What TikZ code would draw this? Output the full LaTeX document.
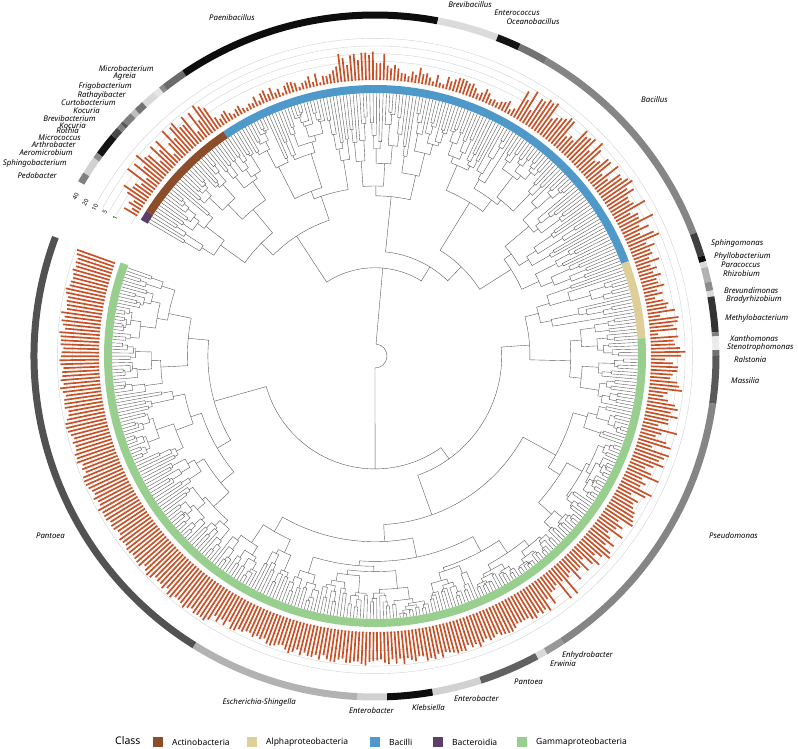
\documentclass[tikz,border=0pt]{standalone}
\usepackage{fontspec}
\setmainfont{Noto Sans}
\usepackage{tikz}
\usetikzlibrary{positioning}
\definecolor{barorange}{RGB}{200, 82, 40}
\definecolor{actino}{RGB}{140, 78, 42}
\definecolor{alpha}{RGB}{222, 207, 152}
\definecolor{bacilli}{RGB}{78, 152, 202}
\definecolor{bactero}{RGB}{92, 62, 102}
\definecolor{gamma}{RGB}{152, 206, 142}
\tikzset{
  branch/.style={draw=black!65, line width=0.4pt},
  bar/.style={draw=barorange, line width=1.7pt},
  scalering/.style={draw=black!18, line width=0.4pt},
  genus/.style={font=\fontsize{7.8}{8}\selectfont\itshape, inner sep=1pt},
  legendbox/.style={minimum size=9.5pt, inner sep=0pt},
  legendtext/.style={font=\fontsize{8.5}{9}\selectfont, anchor=west, inner sep=0pt}
}
\def\astart{149.8}
\def\aw{0.72875}
\def\rleaf{263}
% one clade: first leaf, number of leaves, radius, fixed split (0 = random)
\newcommand\clade[4]{%
  \begingroup
  \ifnum#2=1
    \pgfmathsetmacro\aa{\astart-(#1+0.5)*\aw}
    \draw[branch] (\aa:#3pt) -- (\aa:\rleaf pt);
  \else
    \ifnum#4=0
      \pgfmathtruncatemacro\kk{max(1,min(#2-1,round(#2*(0.2+0.6*rnd))))}
    \else
      \def\kk{#4}
    \fi
    \pgfmathtruncatemacro\nb{#2-\kk}
    \pgfmathtruncatemacro\ib{#1+\kk}
    \pgfmathsetmacro\ca{\astart-(#1+\kk/2)*\aw}
    \pgfmathsetmacro\cb{\astart-(\ib+\nb/2)*\aw}
    \pgfmathsetmacro\ra{#3+(\rleaf-#3)*(0.08+0.34*rnd)}
    \pgfmathsetmacro\rb{#3+(\rleaf-#3)*(0.08+0.34*rnd)}
    \draw[branch] (\ca:\ra pt) -- (\ca:#3pt) arc[start angle=\ca, end angle=\cb, radius=#3pt] -- (\cb:\rb pt);
    \edef\next{\noexpand\clade{#1}{\kk}{\ra}{0}\noexpand\clade{\ib}{\nb}{\rb}{0}}\next
  \fi
  \endgroup}

\begin{document}
\begin{tikzpicture}
\useasboundingbox (-375pt,-393pt) rectangle (423pt,356pt);
\pgfmathsetseed{11}

% scale rings
\foreach \v/\r/\rl in {1/277/294, 5/294.7/306, 10/302.3/317, 20/310/328, 40/317.6/339} {
  \draw[scalering] (-200:\r pt) arc[start angle=-200, end angle=151.5, radius=\r pt];
  \node[font=\fontsize{6}{6}\selectfont, rotate=62, inner sep=0pt] at (152:\rl pt) {\v};
}

% tree
\clade{0}{480}{12}{178}

% class ring
\foreach \a/\b/\c in {149.8/147.6/bactero, 147.6/124/actino, 124/20.5/bacilli, 20.5/3.8/alpha, 3.8/-200.2/gamma}
  \draw[\c, line width=8pt] (\a:267pt) arc[start angle=\a, end angle=\b, radius=267pt];

% bars
\foreach \i in {0,...,479} {
  \pgfmathsetmacro\aa{\astart-(\i+0.5)*\aw}
  \pgfmathsetmacro\len{\aa>147.6 ? 8+10*rnd : (\aa>124 ? 8+28*rnd : (\aa>98 ? 3+10*rnd : (\aa>88 ? 14+16*rnd : (\aa>60 ? 4+12*rnd : (\aa>20.5 ? 14+22*rnd : (\aa>3.8 ? 8+22*rnd : (\aa>-56 ? 14+22*rnd : (\aa>-122 ? 27+7*rnd : 35+6*rnd))))))))}
  \draw[bar] (\aa:276pt) -- (\aa:276pt+\len pt);
}

% genus ring
\foreach \a/\b/\s in {149.5/147.8/50, 147.8/144.8/18, 144.8/143.8/45, 143.8/140/92, 140/138.5/72, 138.5/137.6/50,
  137.6/137/65, 137/135.2/50, 135.2/134.2/25, 134.2/132.5/55, 132.5/130/15, 130/128.8/10, 128.8/128/45, 128/124/58,
  124/79.4/95, 79.4/69/14, 69/65/92, 65/60/55, 60/21/48, 21/17/75, 17/16/95, 16/15/15, 15/12.5/30, 12.5/11/45,
  11/10/15, 10/4/80, 4/3.3/50, 3.3/1/8, 1/0/55, 0/-8/65, -8/-56.7/48, -56.7/-60/40, -60/-61.7/15, -61.7/-72/62,
  -72/-80.3/18, -80.3/-88/95, -88/-93/18, -93/-122/30, -122/-200.4/68}
  \draw[black!\s, line width=7pt] (\a:341pt) arc[start angle=\a, end angle=\b, radius=341pt];

% labels and legend in picture pixels
\begin{scope}[shift={(-375pt,356pt)}, x=1pt, y=-1pt]
\foreach \x/\y/\t in {155/69/Microbacterium, 137/77/Agreia, 133/86/Frigobacterium, 127/95/Rathayibacter,
  117/103/Curtobacterium, 101/111/Kocuria, 97/119/Brevibacterium, 87/126/Kocuria, 80/131/Rothia,
  82/138/Micrococcus, 77/145/Arthrobacter, 74/153/Aeromicrobium, 68/163/Sphingobacterium, 58/176/Pedobacter,
  297/702/Escherichia-Shingella, 66/536/Pantoea}
  \node[genus, anchor=east] at (\x,\y) {\t};
\foreach \x/\y/\t in {710/243/Sphingomonas, 713/256/Phyllobacterium, 720/265/Paracoccus, 722/274/Rhizobium,
  723/291/Brevundimonas, 725/299/Bradyrhizobium, 724/318/Methylobacterium, 729/339/Xanthomonas,
  726/347/Stenotrophomonas, 733/360/Ralstonia, 730/381/Massilia, 708/536/Pseudomonas, 561/655/Enhydrobacter,
  549/664/Erwinia, 513/682/Pantoea, 453/699/Enterobacter, 411/708/Klebsiella, 348/711/Enterobacter, 640/100/Bacillus}
  \node[genus, anchor=west] at (\x,\y) {\t};
\foreach \x/\y/\t in {232/18/Paenibacillus, 470/5/Brevibacillus, 517/13/Enterococcus, 533/22/Oceanobacillus}
  \node[genus] at (\x,\y) {\t};

% legend
\node[font=\fontsize{10.5}{11}\selectfont, anchor=west, inner sep=0pt] (classlab) at (115,741) {Class};
\foreach \x/\c/\t in {158/actino/Actinobacteria, 252/alpha/Alphaproteobacteria, 375/bacilli/Bacilli,
  438/bactero/Bacteroidia, 522/gamma/Gammaproteobacteria} {
  \node[legendbox, fill=\c] (box\c) at (\x,742) {};
  \node[legendtext, right=9pt of box\c] {\t};
}
\end{scope}
\end{tikzpicture}
\end{document}
